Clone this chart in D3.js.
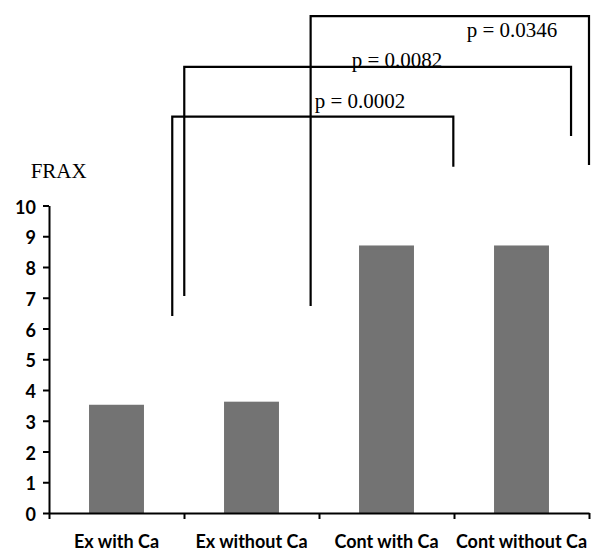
<!DOCTYPE html>
<html>
<head>
<meta charset="utf-8">
<script src="https://cdn.jsdelivr.net/npm/d3@7"></script>
<style>
  body { margin: 0; background: #fff; }
  svg { display: block; }
</style>
</head>
<body>
<div id="chart"></div>
<script>
// bar data
const categories = ['Ex with Ca', 'Ex without Ca', 'Cont with Ca', 'Cont without Ca'];
const fraxValues = [3.52, 3.62, 8.7, 8.7];
const yTicks = [0, 1, 2, 3, 4, 5, 6, 7, 8, 9, 10];

// significance brackets (x in category slots 0..4, y in FRAX units)
const pLabels = ['p = 0.0002', 'p = 0.0082', 'p = 0.0346'];
const bracketLeft = [0.913, 1.002, 1.938];
const bracketRight = [2.995, 3.867, 4.0];
const bracketTop = [12.89, 14.51, 16.16];
const bracketLeftEnd = [6.41, 7.06, 6.73];
const bracketRightEnd = [11.26, 12.26, 11.32];
const labelX = [1.968, 2.242, 3.094];
const labelY = [13.17, 14.49, 15.47];

const width = 591;
const height = 551;
const margin = { top: 205.5, right: 2, bottom: 38, left: 49 };

const svg = d3.select('#chart').append('svg')
    .attr('width', width)
    .attr('height', height);

// scales
const x = d3.scaleBand()
    .domain(categories)
    .range([margin.left, width - margin.right])
    .paddingInner(0.593)
    .paddingOuter(0.2965);

const slot = d3.scaleLinear()
    .domain([0, categories.length])
    .range([margin.left, width - margin.right]);

const y = d3.scaleLinear()
    .domain([0, 10])
    .range([height - margin.bottom, margin.top]);

// bars
svg.selectAll('.bar')
    .data(fraxValues)
    .enter().append('rect')
    .attr('class', 'bar')
    .attr('x', (d, i) => x(categories[i]))
    .attr('y', d => y(d))
    .attr('width', x.bandwidth())
    .attr('height', d => y(0) - y(d))
    .attr('fill', '#737373');

// y axis
const yAxis = svg.append('g')
    .attr('transform', `translate(${margin.left},0)`)
    .call(d3.axisLeft(y).tickValues(yTicks).tickSize(6).tickSizeOuter(0).tickPadding(7));
yAxis.select('.domain').attr('stroke-width', 2);
yAxis.selectAll('.tick line').attr('stroke-width', 2);
yAxis.selectAll('.tick text')
    .attr('dy', '0.42em')
    .style('font-family', 'Lato, sans-serif')
    .style('font-weight', 700)
    .style('font-size', '18px')
    .attr('fill', '#000');

// x axis: boundary ticks
const xTicks = svg.append('g')
    .attr('transform', `translate(0,${y(0)})`)
    .call(d3.axisBottom(slot).tickValues(d3.range(categories.length + 1)).tickFormat('').tickSize(6).tickSizeOuter(0));
xTicks.select('.domain').attr('stroke-width', 2);
xTicks.selectAll('.tick line').attr('stroke-width', 2);

// x axis: category labels
const xAxis = svg.append('g')
    .attr('transform', `translate(0,${y(0)})`)
    .call(d3.axisBottom(x).tickSize(0).tickPadding(22));
xAxis.select('.domain').remove();
xAxis.selectAll('.tick text')
    .attr('dy', '0.71em')
    .style('font-family', 'Lato, sans-serif')
    .style('font-weight', 700)
    .style('font-size', '18px')
    .attr('fill', '#000');

// y title
svg.append('text')
    .attr('x', 30.7)
    .attr('y', 178)
    .style('font-family', '"Liberation Serif", "Times New Roman", serif')
    .style('font-size', '21px')
    .text('FRAX');

// p-value labels
svg.selectAll('.plabel')
    .data(pLabels)
    .enter().append('text')
    .attr('class', 'plabel')
    .attr('x', (d, i) => slot(labelX[i]))
    .attr('y', (d, i) => y(labelY[i]))
    .style('font-family', '"Liberation Serif", "Times New Roman", serif')
    .style('font-size', '21px')
    .text(d => d);

// brackets
const line = d3.line();
svg.selectAll('.bracket')
    .data(pLabels)
    .enter().append('path')
    .attr('class', 'bracket')
    .attr('d', (d, i) => line([
        [slot(bracketLeft[i]), y(bracketLeftEnd[i])],
        [slot(bracketLeft[i]), y(bracketTop[i])],
        [slot(bracketRight[i]), y(bracketTop[i])],
        [slot(bracketRight[i]), y(bracketRightEnd[i])]
    ]))
    .attr('fill', 'none')
    .attr('stroke', '#000')
    .attr('stroke-width', 2.2);
</script>
</body>
</html>
